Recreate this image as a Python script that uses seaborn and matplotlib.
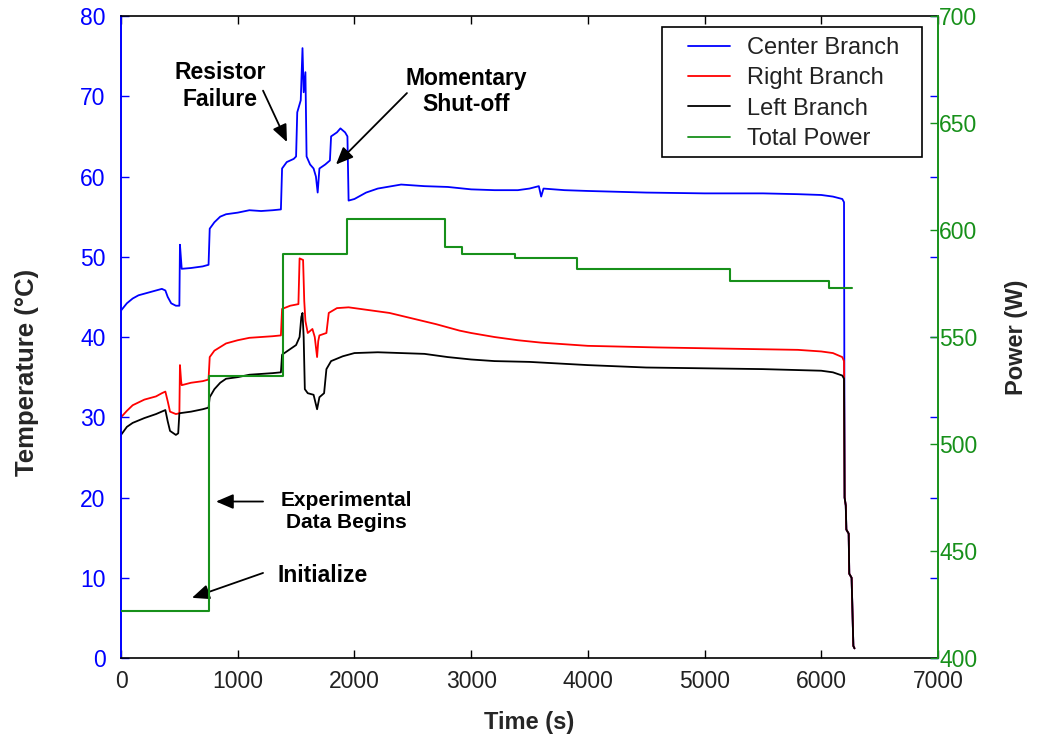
import numpy as np
import pandas as pd
import matplotlib
matplotlib.use("Agg")
import matplotlib.pyplot as plt
import seaborn as sns
from matplotlib.lines import Line2D
from matplotlib.patches import Rectangle

# ---------------- data ----------------
tail_t = [6200, 6210, 6215, 6235, 6240, 6260, 6275, 6285]
tail_v = [20.0, 19.0, 16.0, 15.5, 10.5, 10.0, 1.5, 1.2]

center_t = [0, 50, 100, 150, 200, 250, 300, 350, 380, 400, 430, 470, 500, 505, 515, 520,
            600, 700, 750, 760, 800, 850, 900, 1000, 1100, 1200, 1300, 1370, 1380, 1420,
            1480, 1500, 1510, 1540, 1555, 1565, 1580, 1590, 1620, 1650, 1670, 1685, 1700,
            1750, 1790, 1800, 1850, 1880, 1920, 1940, 1950, 2000, 2100, 2200, 2400, 2600,
            2800, 3000, 3200, 3400, 3500, 3580, 3600, 3620, 3800, 4000, 4500, 5000, 5500,
            5800, 6000, 6100, 6180, 6195]
center_v = [43.3, 44.2, 44.8, 45.2, 45.4, 45.6, 45.8, 46.0, 45.8, 45.0, 44.2, 43.9, 43.9, 51.5, 49.5, 48.5,
            48.6, 48.8, 49.0, 53.5, 54.3, 55.0, 55.3, 55.5, 55.8, 55.7, 55.8, 55.9, 61.0, 61.8,
            62.2, 62.5, 68.0, 69.5, 76.0, 70.5, 73.0, 62.5, 61.5, 61.0, 60.0, 58.0, 61.0,
            61.5, 62.0, 65.0, 65.5, 66.0, 65.5, 65.0, 57.0, 57.2, 58.0, 58.5, 59.0, 58.8,
            58.7, 58.4, 58.3, 58.3, 58.5, 58.8, 57.5, 58.5, 58.3, 58.2, 58.0, 57.9, 57.9,
            57.8, 57.7, 57.5, 57.2, 56.8]

right_t = [0, 50, 100, 200, 300, 350, 380, 400, 420, 470, 500, 505, 515, 520, 600, 700, 750,
           760, 800, 900, 1000, 1100, 1200, 1300, 1370, 1380, 1450, 1520, 1530, 1560, 1570,
           1580, 1600, 1640, 1660, 1680, 1690, 1700, 1760, 1780, 1850, 1950, 2100, 2300,
           2500, 2700, 2800, 2900, 3000, 3200, 3400, 3600, 3800, 4000, 4300, 4600, 5000,
           5400, 5800, 6000, 6100, 6180, 6195]
right_v = [30.0, 30.8, 31.5, 32.2, 32.6, 33.0, 33.2, 32.0, 30.7, 30.4, 30.5, 36.5, 34.5, 34.0, 34.3, 34.5, 34.7,
           37.5, 38.3, 39.2, 39.6, 39.9, 40.0, 40.1, 40.2, 43.5, 43.9, 44.1, 49.8, 49.6, 44.5,
           42.0, 40.5, 41.0, 40.0, 37.5, 39.5, 40.2, 40.5, 43.0, 43.6, 43.7, 43.4, 43.0,
           42.3, 41.6, 41.2, 40.8, 40.5, 40.0, 39.6, 39.3, 39.1, 38.9, 38.8, 38.7, 38.6,
           38.5, 38.4, 38.2, 38.0, 37.5, 37.0]

left_t = [0, 50, 100, 200, 300, 380, 400, 420, 470, 490, 500, 600, 700, 750, 760, 800, 850,
          900, 1000, 1100, 1200, 1300, 1370, 1380, 1450, 1500, 1530, 1545, 1555, 1565, 1575,
          1600, 1650, 1680, 1700, 1740, 1760, 1800, 1900, 2000, 2200, 2400, 2600, 2800,
          3000, 3200, 3500, 4000, 4500, 5000, 5500, 6000, 6100, 6180, 6195]
left_v = [27.8, 28.8, 29.3, 29.9, 30.4, 30.9, 29.5, 28.3, 27.8, 28.0, 30.5, 30.7, 31.0, 31.2, 32.5, 33.5, 34.3,
          34.8, 35.0, 35.3, 35.4, 35.5, 35.6, 37.8, 38.5, 39.0, 40.0, 42.5, 43.0, 40.0, 33.5,
          33.0, 32.8, 31.0, 32.5, 33.0, 36.0, 37.0, 37.6, 38.0, 38.1, 38.0, 37.9, 37.5,
          37.2, 37.0, 36.9, 36.5, 36.2, 36.1, 36.0, 35.8, 35.6, 35.2, 34.8]

power_t = [0, 755, 1385, 1940, 2775, 2925, 3380, 3905, 5220, 6065, 6265]
power_v = [422, 532, 589, 605, 592, 589, 587, 582, 576, 573, 573]

x_ticks = [0, 1000, 2000, 3000, 4000, 5000, 6000, 7000]
temp_ticks = [0, 10, 20, 30, 40, 50, 60, 70, 80]
power_ticks = [400, 450, 500, 550, 600, 650, 700]

BLUE = "#0000FF"
RED = "#FF0000"
BLACK = "#000000"
GREEN = "#17901a"

# ---------------- style ----------------
sns.set_theme(style="white")
plt.rcParams["font.family"] = ["Liberation Sans", "DejaVu Sans"]

fig = plt.figure(figsize=(10.37, 7.42), dpi=100)
ax = fig.add_axes([0.1167, 0.1132, 0.7878, 0.8652])
ax2 = ax.twinx()

def series(t, v):
    return pd.DataFrame({"t": list(t) + tail_t, "v": list(v) + tail_v})

kw = dict(estimator=None, sort=False, linewidth=1.3, legend=False)
sns.lineplot(data=series(center_t, center_v), x="t", y="v", color=BLUE, ax=ax, **kw)
sns.lineplot(data=series(right_t, right_v), x="t", y="v", color=RED, ax=ax, **kw)
sns.lineplot(data=series(left_t, left_v), x="t", y="v", color=BLACK, ax=ax, **kw)

pdf = pd.DataFrame({"t": power_t, "p": power_v})
sns.lineplot(data=pdf, x="t", y="p", color=GREEN, ax=ax2, estimator=None, sort=False,
             linewidth=1.5, drawstyle="steps-post", legend=False)

# ---------------- axes ----------------
ax.set_xlim(0, 7000)
ax.set_ylim(0, 80)
ax2.set_ylim(400, 700)
ax.set_xticks(x_ticks)
ax.set_yticks(temp_ticks)
ax2.set_yticks(power_ticks)
ax.set_xticklabels([str(v) for v in x_ticks])
ax.set_yticklabels([str(v) for v in temp_ticks])
ax2.set_yticklabels([str(v) for v in power_ticks])

for sp in ["top", "bottom"]:
    ax.spines[sp].set_color("black")
    ax.spines[sp].set_linewidth(1.2)
ax.spines["left"].set_color(BLUE)
ax.spines["left"].set_linewidth(1.4)
ax.spines["right"].set_visible(False)
for sp in ["top", "bottom", "left"]:
    ax2.spines[sp].set_visible(False)
ax2.spines["right"].set_color(GREEN)
ax2.spines["right"].set_linewidth(1.4)

ax.tick_params(axis="x", direction="in", top=True, bottom=True, length=6, width=1,
               colors="black", labelsize=16.5, labelcolor="#222222", pad=8.5)
ax.tick_params(axis="y", direction="in", left=True, right=True, length=6, width=1,
               colors=BLUE, labelsize=16.5, pad=11)
ax2.tick_params(axis="y", direction="in", right=True, left=False, length=6, width=1,
                colors=GREEN, labelsize=16.5, pad=1)

ax.set_xlabel("Time (s)", fontsize=17, fontweight="bold", labelpad=13)
ax.set_ylabel("Temperature (°C)", fontsize=18.5, fontweight="bold")
ax.yaxis.set_label_coords(-0.10, 0.445)
ax2.set_ylabel("Power (W)", fontsize=17, fontweight="bold", labelpad=20)
ax.grid(False)
ax2.grid(False)

# ---------------- legend ----------------
frame = Rectangle((0.662, 0.780), 0.318, 0.203, transform=ax2.transAxes,
                  facecolor="white", edgecolor="black", linewidth=1.2, zorder=4)
ax2.add_patch(frame)
handles = [Line2D([], [], color=BLUE, lw=1.3), Line2D([], [], color=RED, lw=1.3),
           Line2D([], [], color=BLACK, lw=1.3), Line2D([], [], color=GREEN, lw=1.3)]
labels = ["Center Branch", "Right Branch", "Left Branch", "Total Power"]
leg = ax2.legend(handles, labels, loc="upper left", bbox_to_anchor=(0.694, 0.967),
                 borderaxespad=0, borderpad=0, fontsize=17, frameon=False,
                 handlelength=1.8, handletextpad=0.7, labelspacing=0.35)
leg.set_zorder(5)
for t in leg.get_texts():
    t.set_color("#222222")

# ---------------- annotations ----------------
ap = dict(arrowstyle="-|>,head_length=0.7,head_width=0.3", color="black", lw=1.3,
          mutation_scale=15, shrinkA=0, shrinkB=0)
tk = dict(fontweight="bold", ha="center", va="center", color="black", linespacing=1.2)

ax.text(848, 71.3, "Resistor\nFailure", fontsize=16.5, **tk)
ax.annotate("", xy=(1422, 64.3), xytext=(1217, 70.7), arrowprops=ap)

ax.text(2956, 70.6, "Momentary\nShut-off", fontsize=16.5, **tk)
ax.annotate("", xy=(1842, 61.5), xytext=(2450, 70.4), arrowprops=ap)

ax.text(1928, 18.2, "Experimental\nData Begins", fontsize=15, **tk)
ax.annotate("", xy=(814, 19.5), xytext=(1217, 19.5), arrowprops=ap)

ax.text(1731, 10.3, "Initialize", fontsize=16.5, **tk)
ax.annotate("", xy=(608, 7.5), xytext=(1217, 10.6), arrowprops=ap)

fig.savefig("out.png", dpi=100)
